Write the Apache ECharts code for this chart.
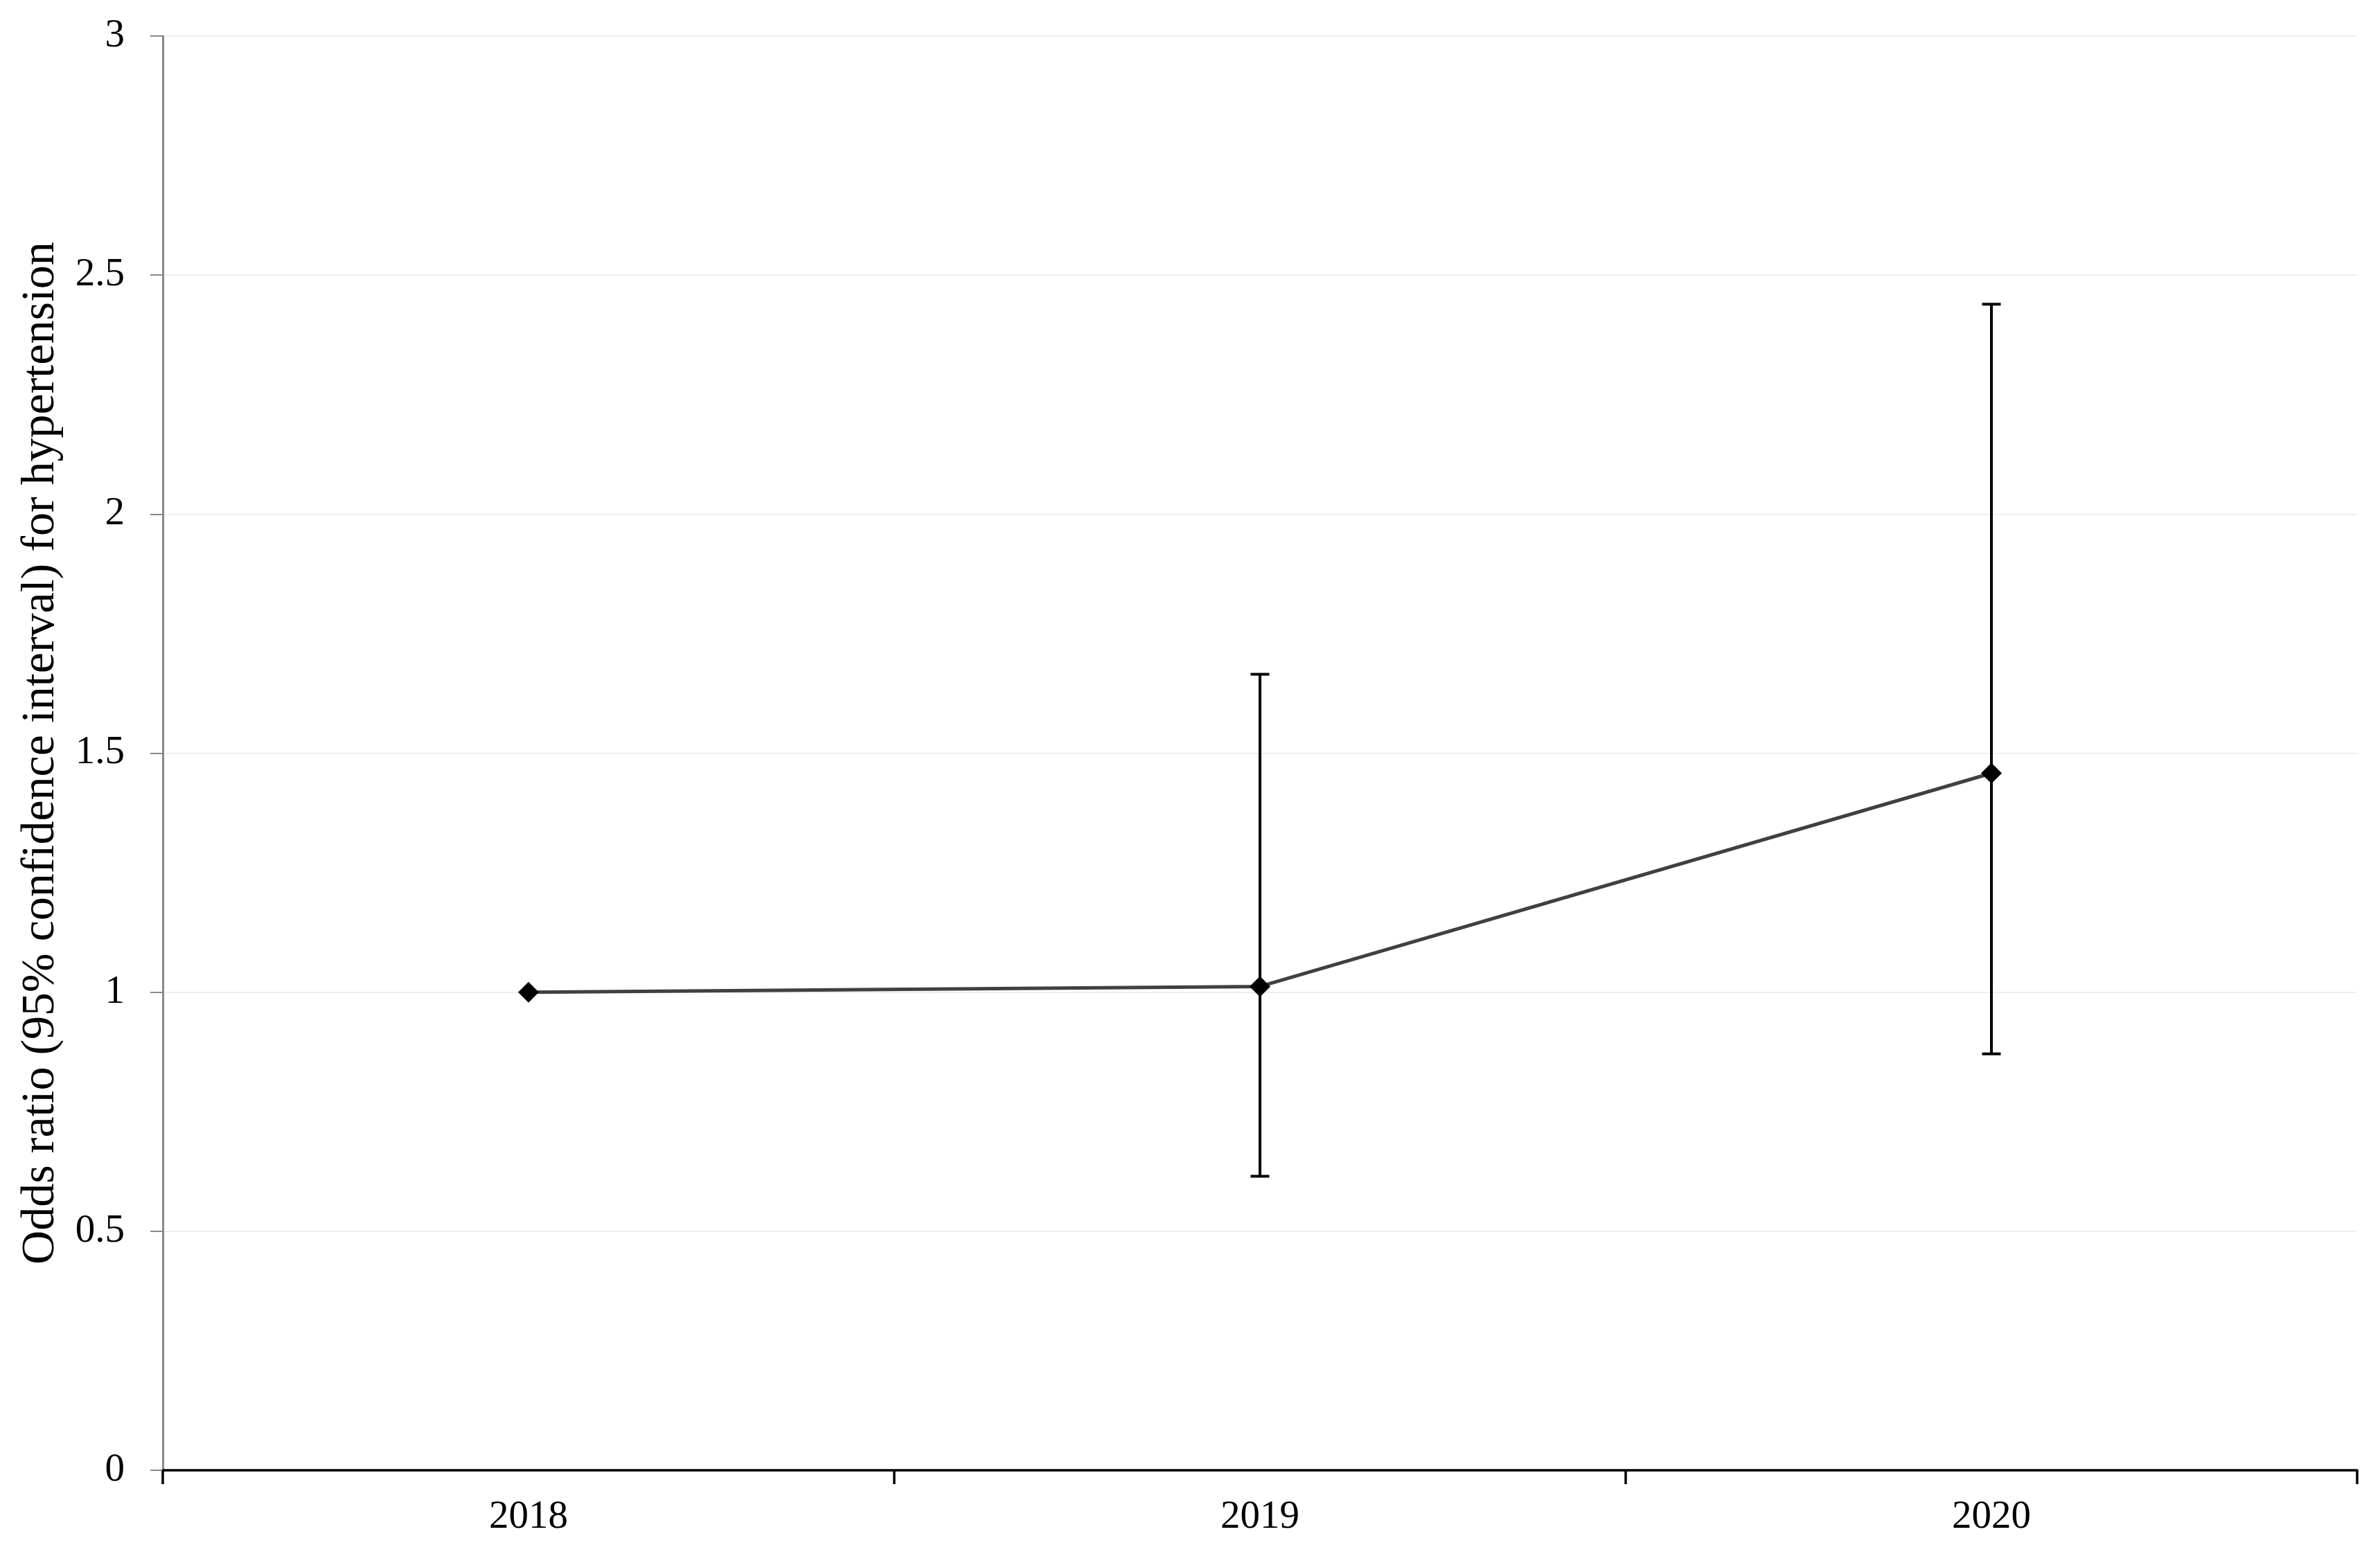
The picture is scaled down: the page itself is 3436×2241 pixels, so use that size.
<!DOCTYPE html>
<html>
<head>
<meta charset="utf-8">
<script src="https://cdn.jsdelivr.net/npm/echarts@6/dist/echarts.min.js"></script>
<style>
  html, body { margin: 0; padding: 0; background: #fff; }
  #chart { width: 3436px; height: 2241px; }
</style>
</head>
<body>
<div id="chart"></div>
<script>
const years = ['2018', '2019', '2020'];
const oddsRatio = [1.0, 1.012, 1.458];
const ciLower = [null, 0.615, 0.871];
const ciUpper = [null, 1.665, 2.439];
const yTicks = [0, 0.5, 1, 1.5, 2, 2.5, 3];
const yTitle = 'Odds ratio (95% confidence interval) for hypertension';

const errorData = [];
years.forEach((y, i) => {
  if (ciLower[i] != null && ciUpper[i] != null) errorData.push([i, ciLower[i], ciUpper[i]]);
});

const FONT = '"Liberation Serif", "Times New Roman", serif';
const chart = echarts.init(document.getElementById('chart'));
chart.setOption({
  animation: false,
  backgroundColor: '#ffffff',
  grid: { left: 235, right: 33, top: 52, bottom: 118, containLabel: false },
  xAxis: {
    type: 'category',
    data: years,
    boundaryGap: true,
    axisLine: { show: true, lineStyle: { color: '#000', width: 3.5 } },
    axisTick: { show: true, length: 20, lineStyle: { color: '#000', width: 3.5 } },
    axisLabel: { color: '#000', fontFamily: FONT, fontSize: 57, margin: 40 },
    splitLine: { show: false }
  },
  yAxis: {
    type: 'value',
    min: yTicks[0],
    max: yTicks[yTicks.length - 1],
    interval: 0.5,
    name: yTitle,
    nameLocation: 'middle',
    nameGap: 142,
    nameTextStyle: { color: '#000', fontFamily: FONT, fontSize: 68 },
    axisLine: { show: true, lineStyle: { color: '#888', width: 3 } },
    axisTick: { show: true, length: 18, lineStyle: { color: '#888', width: 2 } },
    axisLabel: { color: '#000', fontFamily: FONT, fontSize: 57, margin: 55 },
    splitLine: { show: true, lineStyle: { color: '#eeeeee', width: 2 } }
  },
  series: [
    {
      type: 'custom',
      z: 2,
      data: errorData,
      renderItem: function (params, api) {
        const x = api.value(0);
        const lo = api.coord([x, api.value(1)]);
        const hi = api.coord([x, api.value(2)]);
        const hw = 13.5;
        const st = { stroke: '#000', lineWidth: 4 };
        return {
          type: 'group',
          children: [
            { type: 'line', shape: { x1: lo[0], y1: lo[1], x2: hi[0], y2: hi[1] }, style: st },
            { type: 'line', shape: { x1: hi[0] - hw, y1: hi[1], x2: hi[0] + hw, y2: hi[1] }, style: st },
            { type: 'line', shape: { x1: lo[0] - hw, y1: lo[1], x2: lo[0] + hw, y2: lo[1] }, style: st }
          ]
        };
      }
    },
    {
      type: 'line',
      z: 3,
      data: oddsRatio,
      symbol: 'diamond',
      symbolSize: [30, 30],
      lineStyle: { color: '#404040', width: 5 },
      itemStyle: { color: '#000' }
    }
  ]
});
</script>
</body>
</html>
